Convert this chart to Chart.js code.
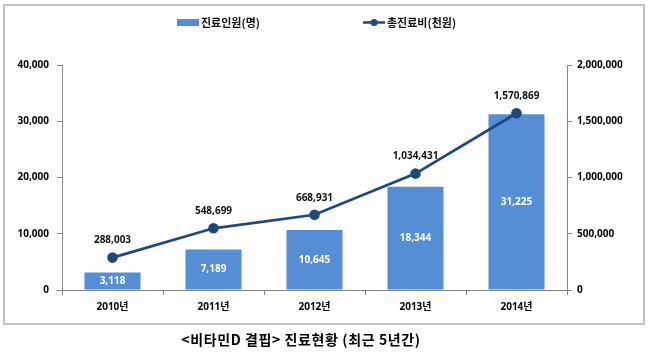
<!DOCTYPE html>
<html>
<head>
<meta charset="utf-8">
<script src="https://cdn.jsdelivr.net/npm/chart.js@4"></script>
<style>
html,body{margin:0;padding:0;background:#fff;}
canvas{display:block;}
</style>
</head>
<body>
<canvas id="c" width="653" height="356"></canvas>
<script>
// ---- data ----
const categories = ['2010년', '2011년', '2012년', '2013년', '2014년'];
const patients = [3118, 7189, 10645, 18344, 31225];          // 진료인원(명)
const totalCost = [288003, 548699, 668931, 1034431, 1570869]; // 총진료비(천원)
const seriesNames = ['진료인원(명)', '총진료비(천원)'];
const leftTicks = [0, 10000, 20000, 30000, 40000];
const rightTicks = [0, 500000, 1000000, 1500000, 2000000];
const caption = '<비타민D 결핍> 진료현황 (최근 5년간)';

const BAR_COLOR = '#558ED5';
const LINE_COLOR = '#1F497D';
const AXIS_COLOR = '#868686';
const FONT_FAMILY = '"Noto Sans", "Noto Sans CJK KR", sans-serif';
const fmt = v => Number(v).toLocaleString('en-US');

const decorPlugin = {
  id: 'decor',
  beforeDraw(chart) {
    const ctx = chart.ctx;
    ctx.save();
    ctx.fillStyle = '#fff';
    ctx.fillRect(0, 0, chart.width, chart.height);
    ctx.strokeStyle = '#c3c3c3';
    ctx.lineWidth = 2;
    ctx.strokeRect(4, 5, 640, 319);
    ctx.restore();
  },
  afterDatasetsDraw(chart) {
    const ctx = chart.ctx;
    ctx.save();
    ctx.textAlign = 'center';
    ctx.textBaseline = 'middle';
    ctx.font = 'bold 10px ' + FONT_FAMILY;
    // bar labels
    const barMeta = chart.getDatasetMeta(1);
    barMeta.data.forEach((el, i) => {
      ctx.fillStyle = '#ffffff';
      ctx.fillText(fmt(patients[i]), el.x, (el.y + el.base) / 2);
    });
    // line labels
    const lineMeta = chart.getDatasetMeta(0);
    lineMeta.data.forEach((el, i) => {
      ctx.fillStyle = '#111111';
      ctx.fillText(fmt(totalCost[i]), el.x, el.y - 17);
    });
    ctx.restore();
  },
  afterDraw(chart) {
    const ctx = chart.ctx;
    ctx.save();
    // legend
    ctx.font = 'bold 11px "Noto Sans CJK KR", sans-serif';
    ctx.textBaseline = 'middle';
    ctx.textAlign = 'left';
    ctx.fillStyle = BAR_COLOR;
    ctx.fillRect(177, 19, 22, 7);
    ctx.fillStyle = '#111';
    ctx.fillText(seriesNames[0], 201, 23);
    ctx.strokeStyle = LINE_COLOR;
    ctx.lineWidth = 2.5;
    ctx.beginPath();
    ctx.moveTo(363, 22.5);
    ctx.lineTo(385, 22.5);
    ctx.stroke();
    ctx.fillStyle = LINE_COLOR;
    ctx.beginPath();
    ctx.arc(374, 22.5, 3.5, 0, Math.PI * 2);
    ctx.fill();
    ctx.fillStyle = '#111';
    ctx.fillText(seriesNames[1], 387, 23);
    // caption
    ctx.font = 'bold 14px "Noto Sans CJK KR", sans-serif';
    ctx.letterSpacing = '0.6px';
    ctx.textAlign = 'center';
    ctx.fillStyle = '#000';
    ctx.fillText(caption, 301, 340);
    ctx.restore();
  }
};

const tickFont = { family: FONT_FAMILY, size: 10, weight: 'bold' };

new Chart(document.getElementById('c'), {
  type: 'bar',
  data: {
    labels: categories,
    datasets: [
      {
        type: 'line',
        label: seriesNames[1],
        data: totalCost,
        yAxisID: 'y1',
        borderColor: LINE_COLOR,
        backgroundColor: LINE_COLOR,
        borderWidth: 2.75,
        pointRadius: 5.3,
        pointBackgroundColor: LINE_COLOR,
        pointBorderColor: LINE_COLOR,
        pointBorderWidth: 0,
        tension: 0,
        order: 0
      },
      {
        type: 'bar',
        label: seriesNames[0],
        data: patients,
        yAxisID: 'y',
        backgroundColor: BAR_COLOR,
        borderWidth: 0,
        categoryPercentage: 1,
        barPercentage: 0.555,
        order: 1
      }
    ]
  },
  options: {
    responsive: false,
    animation: false,
    devicePixelRatio: 1,
    layout: { padding: { top: 65, left: 0, right: 0, bottom: 36 } },
    plugins: {
      legend: { display: false },
      title: { display: false },
      tooltip: { enabled: false }
    },
    scales: {
      x: {
        grid: { offset: true, drawOnChartArea: false, drawTicks: true, tickLength: 5, color: AXIS_COLOR },
        border: { display: true, color: AXIS_COLOR, width: 1 },
        ticks: { padding: 6, font: tickFont, color: '#000', maxRotation: 0 },
        afterFit: s => { s.height = 30; }
      },
      y: {
        position: 'left',
        min: 0, max: 40000,
        afterBuildTicks: s => { s.ticks = leftTicks.map(v => ({ value: v })); },
        ticks: { padding: 8, font: tickFont, color: '#000', callback: v => fmt(v) },
        grid: { drawOnChartArea: false, drawTicks: true, tickLength: 5, color: AXIS_COLOR },
        border: { display: true, color: AXIS_COLOR, width: 1 },
        afterFit: s => { s.width = 62; }
      },
      y1: {
        position: 'right',
        min: 0, max: 2000000,
        afterBuildTicks: s => { s.ticks = rightTicks.map(v => ({ value: v })); },
        ticks: { padding: 5, font: tickFont, color: '#000', callback: v => fmt(v) },
        grid: { drawOnChartArea: false, drawTicks: true, tickLength: 5, color: AXIS_COLOR },
        border: { display: true, color: AXIS_COLOR, width: 1 },
        afterFit: s => { s.width = 86; }
      }
    }
  },
  plugins: [decorPlugin]
});
</script>
</body>
</html>
